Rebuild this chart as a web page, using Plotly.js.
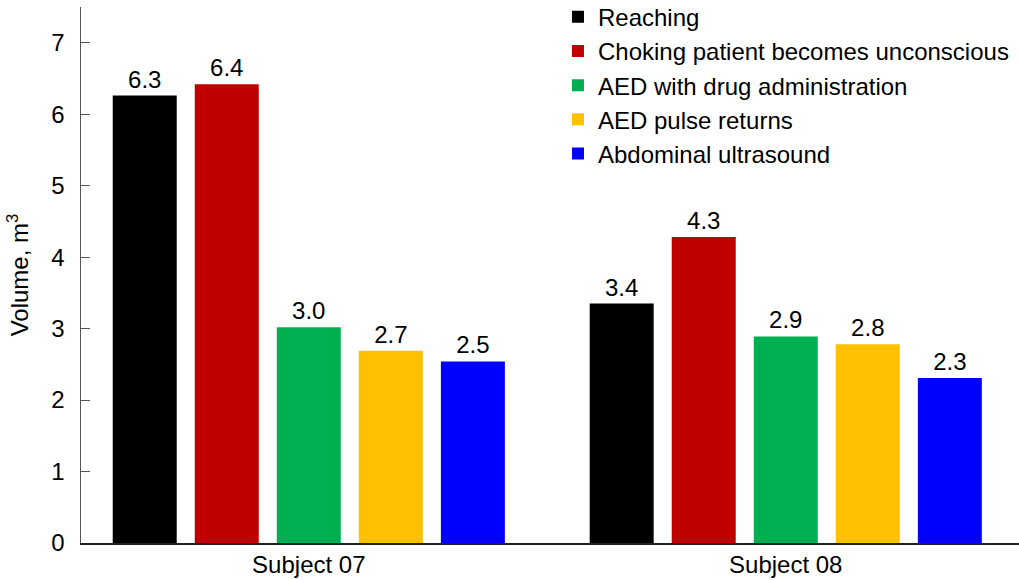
<!DOCTYPE html>
<html>
<head>
<meta charset="utf-8">
<script src="https://cdn.plot.ly/plotly-3.0.1.min.js"></script>
<style>html,body{margin:0;padding:0;background:#fff;}#chart{width:1019px;height:580px;}</style>
</head>
<body>
<div id="chart"></div>
<script>
const subjects = ["Subject 07", "Subject 08"];
const subjectPos = [0, 1];
const seriesNames = ["Reaching", "Choking patient becomes unconscious", "AED with drug administration", "AED pulse returns", "Abdominal ultrasound"];
const reaching = [6.26, 3.35];
const choking = [6.42, 4.28];
const aedDrug = [3.02, 2.89];
const aedPulse = [2.69, 2.78];
const abdominal = [2.54, 2.31];
const colors = ["#000000", "#C00000", "#00B050", "#FFC000", "#0000FF"];
const seriesValues = [reaching, choking, aedDrug, aedPulse, abdominal];
const yTicks = [0, 1, 2, 3, 4, 5, 6, 7];

const FONT = "Liberation Sans, Arial, sans-serif";
const FS = 24;

const traces = seriesNames.map((name, i) => ({
  type: "bar",
  name: name,
  x: subjectPos,
  y: seriesValues[i],
  marker: {color: colors[i], line: {width: 0}},
  texttemplate: "%{y:.1f}",
  textposition: "outside",
  cliponaxis: false,
  textfont: {family: FONT, size: FS, color: "#000"},
  hoverinfo: "skip"
}));

const layout = {
  width: 1019,
  height: 580,
  margin: {l: 81, r: 0, t: 7, b: 37, autoexpand: false},
  paper_bgcolor: "#fff",
  plot_bgcolor: "#fff",
  font: {family: FONT, size: FS, color: "#000"},
  barmode: "group",
  bargap: 0.14,
  bargroupgap: 0.22,
  showlegend: true,
  legend: {
    x: 0.5085, xanchor: "left",
    y: 1.023, yanchor: "top",
    bgcolor: "rgba(0,0,0,0)",
    font: {family: FONT, size: FS, color: "#000"},
    traceorder: "normal",
    itemclick: false
  },
  xaxis: {
    type: "linear",
    range: [-0.4776, 1.489],
    tickvals: subjectPos,
    ticktext: subjects,
    ticks: "",
    showgrid: false,
    zeroline: false,
    showline: true,
    linecolor: "#222",
    linewidth: 1.5,
    tickfont: {family: FONT, size: FS, color: "#000"}
  },
  yaxis: {
    range: [0, 7.5],
    tickvals: yTicks,
    ticks: "inside",
    ticklen: 9,
    tickcolor: "#555",
    tickwidth: 1,
    showgrid: false,
    zeroline: false,
    showline: true,
    linecolor: "#555",
    linewidth: 1.5,
    ticklabelstandoff: 10,
    tickfont: {family: FONT, size: FS, color: "#000"},
    title: {text: "Volume, m<sup>3</sup>", font: {family: FONT, size: FS, color: "#000"}, standoff: 16}
  }
};

Plotly.newPlot("chart", traces, layout, {staticPlot: true});
</script>
</body>
</html>
